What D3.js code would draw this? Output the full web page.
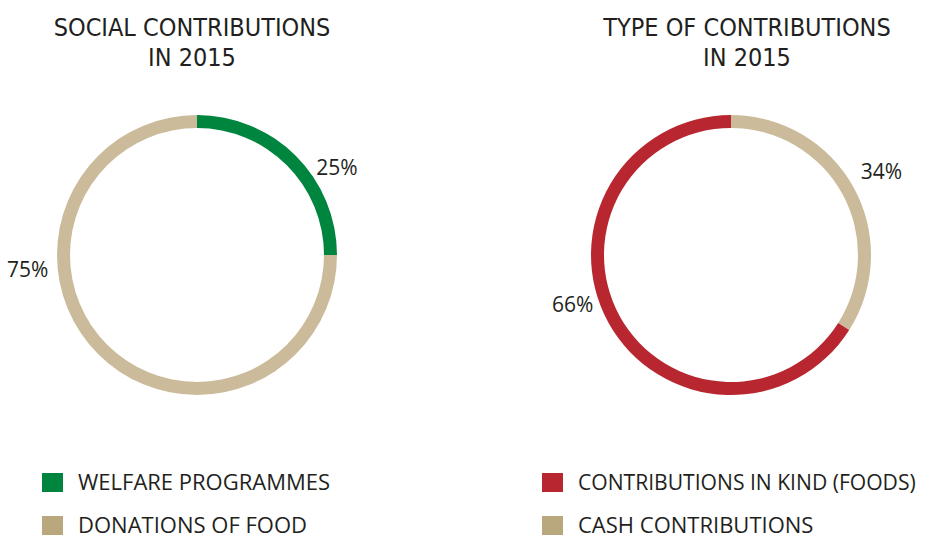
<!DOCTYPE html>
<html><head><meta charset="utf-8">
<script src="https://cdn.jsdelivr.net/npm/d3@7"></script>
<style>
html,body{margin:0;padding:0;background:#fff;}
svg{display:block;}
</style></head>
<body>
<svg id="chart" width="925" height="538"></svg>
<script>
// ---- data ----
const chart1Title = ["SOCIAL CONTRIBUTIONS", "IN 2015"];
const chart1Categories = ["WELFARE PROGRAMMES", "DONATIONS OF FOOD"];
const chart1Values = [25, 75];

const chart2Title = ["TYPE OF CONTRIBUTIONS", "IN 2015"];
const chart2Categories = ["CASH CONTRIBUTIONS", "CONTRIBUTIONS IN KIND (FOODS)"];
const chart2Values = [34, 66];
const chart2LegendOrder = ["CONTRIBUTIONS IN KIND (FOODS)", "CASH CONTRIBUTIONS"];

// ---- styles ----
const ringColor = {
  "WELFARE PROGRAMMES": "#00853f",
  "DONATIONS OF FOOD": "#cbbb9b",
  "CONTRIBUTIONS IN KIND (FOODS)": "#b8272f",
  "CASH CONTRIBUTIONS": "#cbbb9b"
};
const swatchColor = {
  "WELFARE PROGRAMMES": "#00853f",
  "DONATIONS OF FOOD": "#b9a77e",
  "CONTRIBUTIONS IN KIND (FOODS)": "#b8272f",
  "CASH CONTRIBUTIONS": "#b9a77e"
};

const svg = d3.select("#chart");
const W = 925;
const outerR = 140, innerR = 127;
const arc = d3.arc().innerRadius(innerR).outerRadius(outerR);
const pie = d3.pie().sort(null).value(d => d.v);

function donut(cfg) {
  const g = svg.append("g").attr("transform", `translate(${cfg.cx},${cfg.cy})`);
  const data = cfg.cats.map((c, i) => ({c, v: cfg.vals[i]}));
  const arcs = pie(data);
  g.selectAll("path").data(arcs).join("path")
    .attr("d", arc).attr("fill", d => ringColor[d.data.c]);
  // labels
  g.selectAll("text.lbl").data(arcs).join("text")
    .attr("class", "lbl")
    .attr("x", (d, i) => cfg.labelR[i] * Math.sin(cfg.labelAng[i] * Math.PI / 180))
    .attr("y", (d, i) => -cfg.labelR[i] * Math.cos(cfg.labelAng[i] * Math.PI / 180))
    .attr("dy", "0.35em")
    .attr("text-anchor", "middle")
    .attr("font-family", "'Open Sans', sans-serif")
    .attr("font-size", 21)
    .attr("fill", "#231f20")
    .text(d => d.data.v + "%");
  // title
  const t = svg.append("text")
    .attr("x", cfg.tx).attr("y", 36)
    .attr("text-anchor", "middle")
    .attr("font-family", "'Liberation Sans Narrow', 'DejaVu Sans Condensed', sans-serif")
    .attr("font-size", 25)
    .attr("fill", "#231f20");
  cfg.title.forEach((line, i) => t.append("tspan").attr("x", cfg.tx).attr("dy", i ? 30 : 0).text(line));
  // legend
  const lg = svg.append("g").attr("transform", `translate(${cfg.lx},0)`);
  cfg.legend.forEach((c, i) => {
    const y = 482 + i * 43;
    lg.append("rect").attr("x", 0).attr("y", y - 9).attr("width", 21).attr("height", 19).attr("fill", swatchColor[c]);
    const tx = lg.append("text").attr("x", 36).attr("y", y).attr("dy", "0.36em")
      .attr("font-family", "'Open Sans', sans-serif").attr("font-size", 22)
      .attr("fill", "#231f20").text(c);
    const maxW = W - 8 - cfg.lx - 36;
    const len = tx.node().getComputedTextLength();
    if (len > maxW) tx.attr("font-size", Math.floor(22 * maxW / len * 10) / 10);
  });
}

donut({cx: 197, cy: 255, tx: 192, lx: 42, title: chart1Title,
  cats: chart1Categories, vals: chart1Values,
  labelR: [165, 170], labelAng: [58, 265], legend: chart1Categories});
donut({cx: 731, cy: 255, tx: 747, lx: 542, title: chart2Title,
  cats: chart2Categories, vals: chart2Values,
  labelR: [172, 166], labelAng: [61, 252.5], legend: chart2LegendOrder});
</script>
</body></html>
